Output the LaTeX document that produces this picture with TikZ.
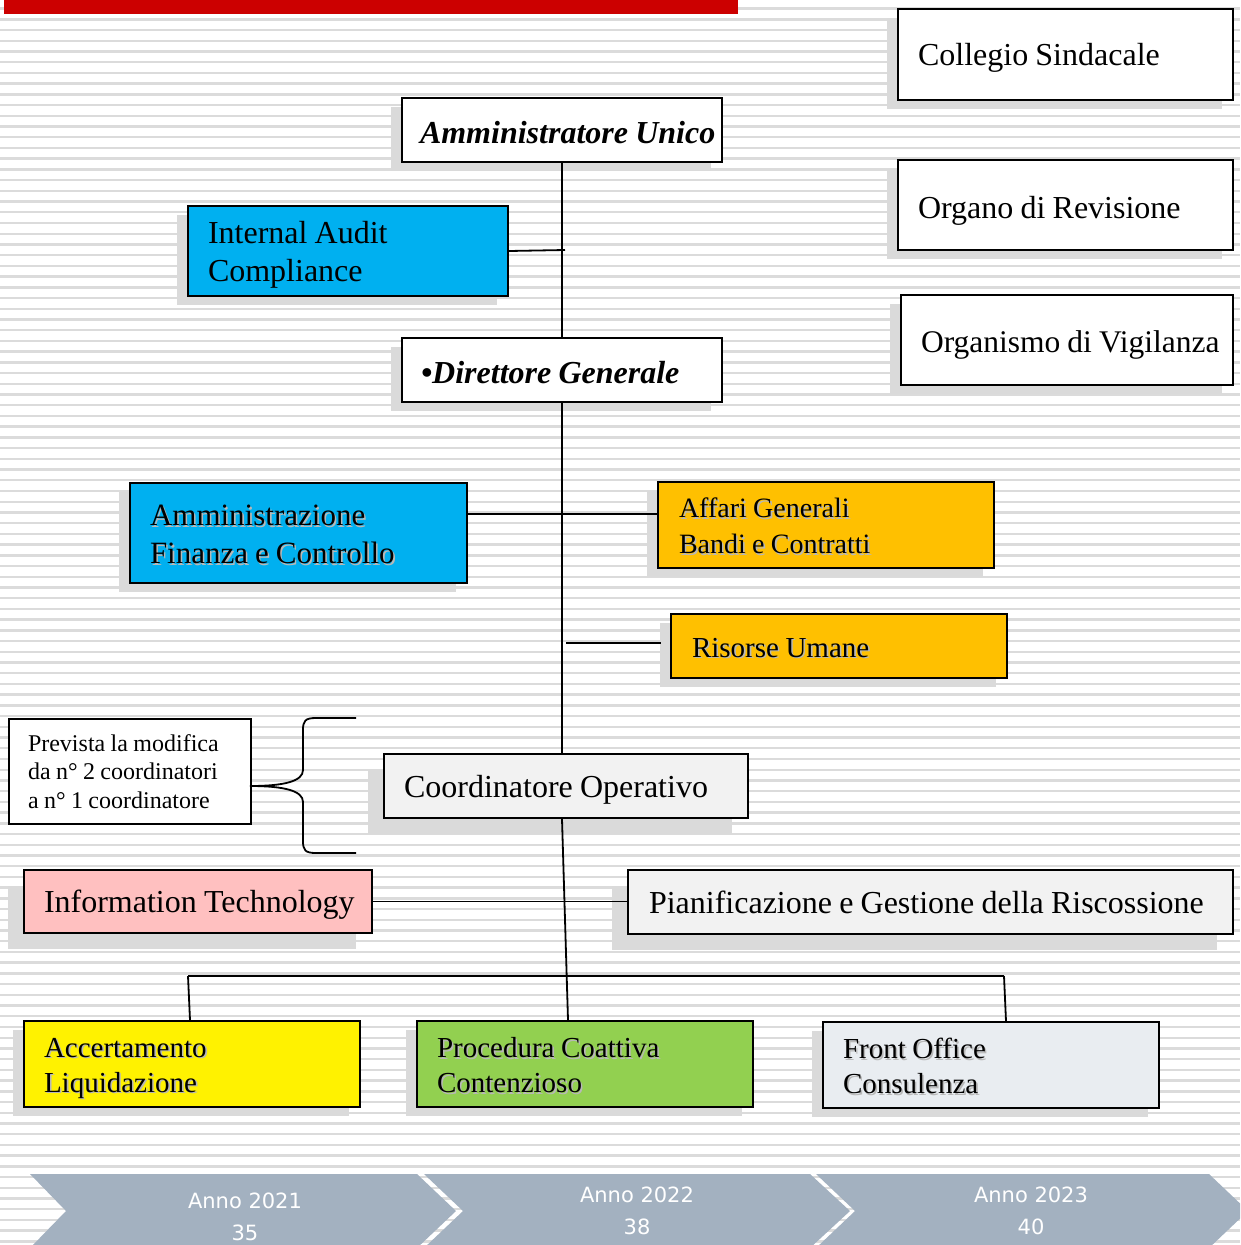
\documentclass[tikz,border=0pt]{standalone}
\usepackage{fontspec}
\setmainfont{Liberation Serif}
\newfontfamily\chevfont{DejaVu Sans}
\usetikzlibrary{shadows}
\definecolor{stripec}{gray}{0.86}
\definecolor{shadowc}{gray}{0.855}
\definecolor{barred}{RGB}{204,0,0}
\definecolor{bluebox}{RGB}{0,176,240}
\definecolor{orangebox}{RGB}{255,192,0}
\definecolor{pinkbox}{RGB}{255,192,192}
\definecolor{lightbox}{RGB}{242,242,242}
\definecolor{greenbox}{RGB}{146,208,80}
\definecolor{frontbox}{RGB}{233,237,241}
\definecolor{chevc}{RGB}{163,177,192}
\definecolor{glowc}{gray}{0.72}
\newcommand\pl[1]{\mbox{#1}}
\newcommand\gl[1]{\mbox{\rlap{\kern1.6pt\raisebox{-1.6pt}{\color{glowc}#1}}#1}}
\tikzset{
  bx/.style={draw=black, line width=2pt, anchor=north west, inner ysep=0pt,
    align=left, font=\fontsize{32}{38}\selectfont,
    execute at begin node={\spaceskip=0.225em\relax}},
  dn/.style={execute at begin node={\rule{0pt}{#1}}},
  sh/.style={general shadow={fill=shadowc, shadow xshift=-11pt, shadow yshift=-9pt}},
  shb/.style={general shadow={fill=shadowc, shadow xshift=-16pt, shadow yshift=-16pt}},
  conn/.style={draw=black, line width=1.8pt},
  stripeline/.style={draw=stripec, line width=2.4pt},
  chev/.style={fill=chevc},
  chevtxt/.style={text=white, align=center, font=\chevfont\fontsize{21}{32}\selectfont}
}
\begin{document}
\begin{tikzpicture}[x=1pt, y=-1pt]
\useasboundingbox (0,0) rectangle (1240,1245);
\clip (0,0) rectangle (1240,1245);
% background stripes
\foreach \i in {0,...,116} {
  \draw[stripeline] (0,{8.6+10.72*\i}) -- (1240,{8.6+10.72*\i});
}
% red bar
\fill[barred] (4,0) rectangle (738,14);

% right column
\node[bx, sh, dn=28pt, fill=white, inner xsep=20pt, text width=295pt, minimum height=91pt] (coll) at (897,8) {\pl{Collegio Sindacale}};
\node[bx, sh, dn=33pt, fill=white, inner xsep=20pt, text width=295pt, minimum height=90pt] (organo) at (897,159) {\pl{Organo di Revisione}};
\node[bx, sh, dn=31pt, fill=white, inner xsep=20pt, text width=292pt, minimum height=90pt, font=\fontsize{31.5}{38}\selectfont] (organismo) at (900,294) {\pl{Organismo di Vigilanza}};

% top
\node[bx, sh, dn=27pt, fill=white, inner xsep=18pt, text width=284pt, minimum height=64pt, font=\fontsize{32}{38}\selectfont\bfseries\itshape] (amm) at (401,97) {\pl{Amministratore Unico}};
\node[bx, sh, dn=30pt, fill=bluebox, inner xsep=20pt, text width=280pt, minimum height=90pt] (audit) at (187,205) {\pl{Internal Audit}\\\pl{Compliance}};
\node[bx, sh, dn=27pt, fill=white, inner xsep=19pt, text width=282pt, minimum height=64pt, font=\fontsize{32}{38}\selectfont\bfseries\itshape] (dir) at (401,337) {\pl{•Direttore Generale}};

\node[bx, sh, dn=25pt, fill=bluebox, inner xsep=20pt, text width=297pt, minimum height=100pt, font=\fontsize{31}{38}\selectfont] (afc) at (129,482) {\gl{Amministrazione}\\\gl{Finanza e Controllo}};
\node[bx, sh, dn=23pt, fill=orangebox, inner xsep=21pt, text width=294pt, minimum height=86pt, font=\fontsize{28}{36}\selectfont] (affari) at (657,481) {\gl{Affari Generali}\\\gl{Bandi e Contratti}};
\node[bx, sh, dn=24pt, fill=orangebox, inner xsep=21pt, text width=294pt, minimum height=64pt, font=\fontsize{29}{35}\selectfont] (risorse) at (670,613) {\gl{Risorse Umane}};

\node[bx, fill=white, inner xsep=19pt, text width=204pt, minimum height=105pt, font=\fontsize{24}{28.7}\selectfont] (prev) at (8,718) {\pl{Prevista la modifica}\\\pl{da n° 2 coordinatori}\\\pl{a n° 1 coordinatore}};

\node[bx, shb, dn=29pt, fill=lightbox, inner xsep=20pt, text width=324pt, minimum height=64pt] (coord) at (383,753) {\pl{Coordinatore Operativo}};
\node[bx, shb, dn=29pt, fill=pinkbox, inner xsep=20pt, text width=308pt, minimum height=63pt] (it) at (23,869) {\pl{Information Technology}};
\node[bx, shb, dn=24pt, fill=lightbox, inner xsep=21pt, text width=563pt, minimum height=64pt] (pian) at (627,869) {\pl{Pianificazione e Gestione della Riscossione}};

\node[bx, sh, dn=29pt, fill=yellow, inner xsep=20pt, text width=296pt, minimum height=86pt, font=\fontsize{29}{35}\selectfont] (acc) at (23,1020) {\gl{Accertamento}\\\gl{Liquidazione}};
\node[bx, sh, dn=24pt, fill=greenbox, inner xsep=20pt, text width=296pt, minimum height=86pt, font=\fontsize{29}{35}\selectfont] (proc) at (416,1020) {\gl{Procedura Coattiva}\\\gl{Contenzioso}};
\node[bx, sh, dn=24pt, fill=frontbox, inner xsep=20pt, text width=296pt, minimum height=86pt, font=\fontsize{29}{35}\selectfont] (front) at (822,1021) {\gl{Front Office}\\\gl{Consulenza}};

% connectors
\coordinate (auditj) at (565,250);
\coordinate (h1) at (561,514);
\coordinate (h2) at (566,643);
\coordinate (c1) at (562,817);
\coordinate (c2) at (568,1020);
\coordinate (b1) at (188,976);
\coordinate (b2) at (1004,976);
\draw[conn] (amm) -- (dir);
\draw[conn] (audit.east) -- (auditj);
\draw[conn] (dir.south) -- (dir.south |- coord.north);
\draw[conn] (afc.east |- h1) -- (affari.west |- h1);
\draw[conn] (h2) -- ([xshift=-9pt]risorse.west |- h2);
\draw[conn] (coord.south -| c1) -- (proc.north -| c2);
\draw[conn] (it.east) -- (pian.west |- it.east);
\draw[conn] (b1) -- (b2);
\draw[conn] (b1) -- ([xshift=-2pt]acc.north);
\draw[conn] (b2) -- ([xshift=15pt]front.north);

% brace
\draw[line width=1.8pt] (356,718) -- (316,718) .. controls (305,718) and (303,721) .. (303,730)
  -- (303,770) .. controls (303,781) and (285,786) .. (250,786)
  .. controls (285,786) and (303,791) .. (303,802)
  -- (303,841) .. controls (303,850) and (305,853) .. (316,853) -- (356,853);

% chevrons
\fill[chev] (30,1174) -- (417,1174) -- (456,1211) -- (417,1248) -- (30,1248) -- (66,1211) -- cycle;
\fill[chev] (424,1174) -- (810,1174) -- (850,1211) -- (810,1248) -- (424,1248) -- (463,1211) -- cycle;
\fill[chev] (816,1174) -- (1209,1174) -- (1248,1211) -- (1209,1248) -- (816,1248) -- (855,1211) -- cycle;
\node[chevtxt] (y1) at (245,1217) {Anno 2021\\35};
\node[chevtxt] (y2) at (637,1211) {Anno 2022\\38};
\node[chevtxt] (y3) at (1031,1211) {Anno 2023\\40};
\end{tikzpicture}
\end{document}
